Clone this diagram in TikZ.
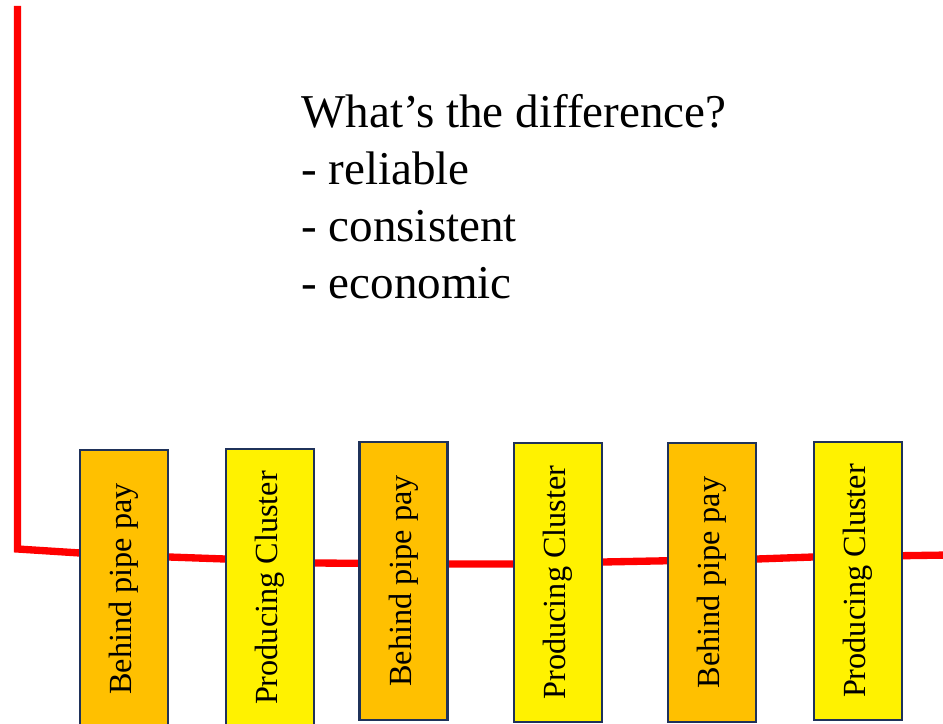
\documentclass[tikz,border=0pt]{standalone}
\usepackage{fontspec}
\setmainfont{Liberation Serif}
\usetikzlibrary{positioning}
\definecolor{paygold}{RGB}{255,192,0}
\definecolor{boxedge}{RGB}{31,50,90}

\begin{document}
\begin{tikzpicture}[x=0.75pt, y=-0.75pt,
  paybox/.style={draw=boxedge, line width=1.6pt, fill=paygold, rotate=90,
    minimum width=209pt, minimum height=66pt, inner sep=0pt,
    font=\fontsize{24.2}{28}\selectfont},
  clusterbox/.style={paybox, fill=yellow},
  redline/.style={red, line width=5.5pt}]
  \clip (0,0) rectangle (943,724);

  % Well path (behind the boxes)
  \coordinate (top) at (17.5,6);
  \coordinate (heel) at (17.5,549);
  \coordinate (w1) at (80,553);
  \coordinate (w2) at (169,557);
  \coordinate (w3) at (225,559);
  \coordinate (w4) at (315,563);
  \coordinate (w5) at (448,564);
  \coordinate (w6) at (513,564);
  \coordinate (w7) at (603,562);
  \coordinate (w8) at (757,559);
  \coordinate (w9) at (813,557);
  \coordinate (toe) at (950,555);
  \draw[redline] (top) -- (heel) -- (w1) -- (w2) -- (w3) -- (w4) -- (w5)
    -- (w6) -- (w7) -- (w8) -- (w9) -- (toe);

  % Intervals along the lateral
  \node[paybox] (bp1) at (124,589) {Behind pipe pay};
  \node[clusterbox] (pc1) at (270,588) {Producing Cluster};
  \node[paybox] (bp2) at (403.5,581) {Behind pipe pay};
  \node[clusterbox] (pc2) at (558,582.5) {Producing Cluster};
  \node[paybox] (bp3) at (712,582.5) {Behind pipe pay};
  \node[clusterbox] (pc3) at (858,581) {Producing Cluster};

  % Question
  \node[anchor=north west, align=left, inner sep=0pt,
    font=\fontsize{35.3}{42.75}\selectfont] (question) at (301,94)
    {What's the difference?\\- reliable\\- consistent\\- economic};
\end{tikzpicture}
\end{document}
